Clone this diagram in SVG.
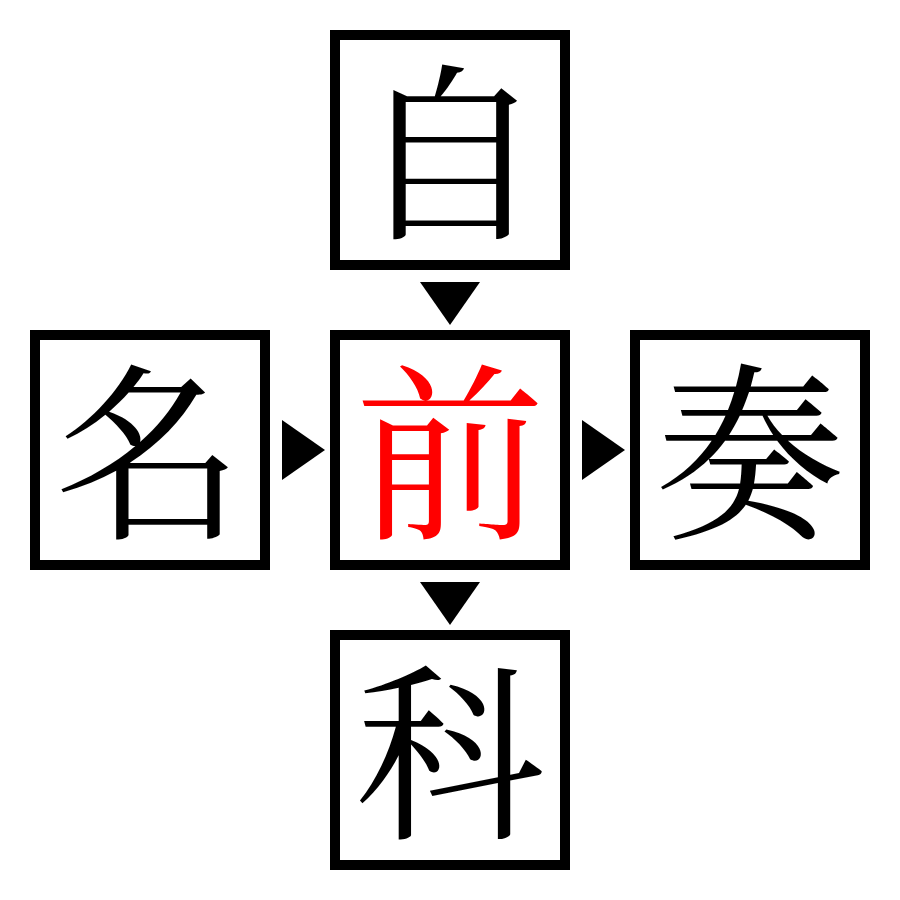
<svg xmlns="http://www.w3.org/2000/svg" width="900" height="900" viewBox="0 0 900 900">
<style>
.box{fill:#fff;stroke:#000;stroke-width:10}
.ch{font-family:"Noto Serif CJK JP","Noto Sans CJK JP",serif;font-size:190px;text-anchor:middle;dominant-baseline:central;fill:#000}
.hl{fill:#ff0000}
.arr{fill:#000}
</style>
<rect width="900" height="900" fill="#fff"/>
<g id="connectors">
<polygon class="arr" points="420,282 480,282 450,325"/>
<polygon class="arr" points="420,582 480,582 450,625"/>
<polygon class="arr" points="282,420 282,480 325,450"/>
<polygon class="arr" points="582,420 582,480 625,450"/>
</g>
<g id="node-top"><rect class="box" x="335" y="35" width="230" height="230"/><text class="ch" x="450" y="141">自</text></g>
<g id="node-left"><rect class="box" x="35" y="335" width="230" height="230"/><text class="ch" x="150" y="441">名</text></g>
<g id="node-center"><rect class="box" x="335" y="335" width="230" height="230"/><text class="ch hl" x="450" y="441">前</text></g>
<g id="node-right"><rect class="box" x="635" y="335" width="230" height="230"/><text class="ch" x="750" y="441">奏</text></g>
<g id="node-bottom"><rect class="box" x="335" y="635" width="230" height="230"/><text class="ch" x="450" y="741">科</text></g>
</svg>
